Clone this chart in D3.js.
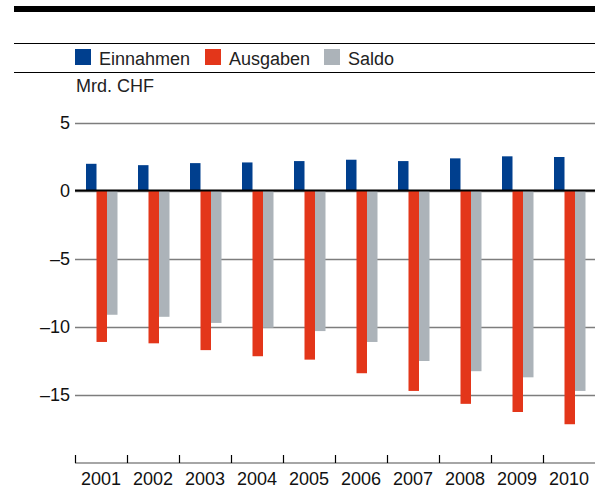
<!DOCTYPE html>
<html>
<head>
<meta charset="utf-8">
<script src="https://cdn.jsdelivr.net/npm/d3@7"></script>
<style>
  body { margin: 0; background: #fff; }
  svg { display: block; font-family: "Liberation Sans", Arial, sans-serif; }
</style>
</head>
<body>
<svg id="chart" width="595" height="490"></svg>
<script>

// chart data (Mrd. CHF)
const years = ['2001', '2002', '2003', '2004', '2005', '2006', '2007', '2008', '2009', '2010'];
const einnahmen = [2.0, 1.9, 2.05, 2.1, 2.2, 2.3, 2.2, 2.4, 2.55, 2.5];
const ausgaben = [-11.1, -11.2, -11.7, -12.15, -12.4, -13.4, -14.7, -15.65, -16.25, -17.15];
const saldo = [-9.1, -9.25, -9.7, -10.05, -10.3, -11.1, -12.5, -13.25, -13.7, -14.7];
const yTicks = [5, 0, -5, -10, -15];

const seriesNames = ['Einnahmen', 'Ausgaben', 'Saldo'];
const colors = ['#003f8e', '#e3361a', '#acb3b9'];
const series = [einnahmen, ausgaben, saldo];

const svg = d3.select('#chart');

// top decoration lines
svg.append('rect')
   .attr('x', 14).attr('y', 6)
   .attr('width', 581).attr('height', 6)
   .attr('fill', '#000');
svg.append('line')
   .attr('x1', 14).attr('x2', 595)
   .attr('y1', 43.5).attr('y2', 43.5)
   .attr('stroke', '#000').attr('stroke-width', 1.2);
svg.append('line')
   .attr('x1', 14).attr('x2', 595)
   .attr('y1', 72.5).attr('y2', 72.5)
   .attr('stroke', '#000').attr('stroke-width', 1.2);

// legend
const legendX = [75, 205, 324];
const legend = svg.append('g')
   .selectAll('g')
   .data(seriesNames)
   .enter()
   .append('g')
   .attr('transform', (d, i) => `translate(${legendX[i]}, 49)`);
legend.append('rect')
   .attr('width', 16).attr('height', 16)
   .attr('fill', (d, i) => colors[i]);
legend.append('text')
   .text(d => d)
   .attr('x', 24).attr('y', 16)
   .attr('font-size', 18)
   .attr('fill', '#222');

// unit label
svg.append('text')
   .text('Mrd. CHF')
   .attr('x', 76).attr('y', 92)
   .attr('font-size', 18)
   .attr('fill', '#222');

// scales
const xScale = d3.scaleBand().domain(years).range([75, 595]);
const subScale = d3.scaleBand().domain(seriesNames).range([11, 42.5]);
const yScale = d3.scaleLinear().domain([5, -15]).range([123, 395]);

// gridlines + y labels
const yAxis = d3.axisLeft(yScale)
   .tickValues(yTicks)
   .tickSize(-520)
   .tickPadding(5)
   .tickFormat(d => String(d).replace('-', '\u2013'));
const yAxisG = svg.append('g')
   .attr('transform', 'translate(75, 0)')
   .call(yAxis);
yAxisG.select('.domain').remove();
yAxisG.selectAll('line')
   .attr('stroke', '#7d7d7d')
   .attr('stroke-width', 1.5);
yAxisG.selectAll('text')
   .attr('font-size', 18)
   .attr('font-family', '"Liberation Sans", Arial, sans-serif')
   .attr('fill', '#111')
   .attr('x', -5)
   .attr('dy', '0.32em');

// bars
const groups = svg.append('g')
   .selectAll('g')
   .data(years)
   .enter()
   .append('g')
   .attr('transform', d => `translate(${xScale(d)}, 0)`);
series.forEach((values, s) => {
  groups.append('rect')
     .attr('x', subScale(seriesNames[s]))
     .attr('width', subScale.bandwidth())
     .attr('y', (d, i) => yScale(Math.max(0, values[i])))
     .attr('height', (d, i) => Math.abs(yScale(values[i]) - yScale(0)))
     .attr('fill', colors[s]);
});

// zero line
svg.append('line')
   .attr('x1', 75).attr('x2', 595)
   .attr('y1', yScale(0) - 0.5).attr('y2', yScale(0) - 0.5)
   .attr('stroke', '#000').attr('stroke-width', 2);

// x axis
const axisY = 463;
svg.append('line')
   .attr('x1', 75).attr('x2', 595)
   .attr('y1', axisY).attr('y2', axisY)
   .attr('stroke', '#888').attr('stroke-width', 1.5);
svg.append('g')
   .selectAll('line')
   .data(years)
   .enter()
   .append('line')
   .attr('x1', d => xScale(d) + 0.5).attr('x2', d => xScale(d) + 0.5)
   .attr('y1', axisY - 8).attr('y2', axisY)
   .attr('stroke', '#000').attr('stroke-width', 1.2);
const xAxis = d3.axisBottom(xScale).tickSize(0).tickPadding(0);
const xAxisG = svg.append('g')
   .attr('transform', `translate(0, ${axisY})`)
   .call(xAxis);
xAxisG.select('.domain').remove();
xAxisG.selectAll('text')
   .attr('font-size', 18)
   .attr('font-family', '"Liberation Sans", Arial, sans-serif')
   .attr('fill', '#111')
   .attr('dy', null)
   .attr('y', 22);

</script>
</body>
</html>
